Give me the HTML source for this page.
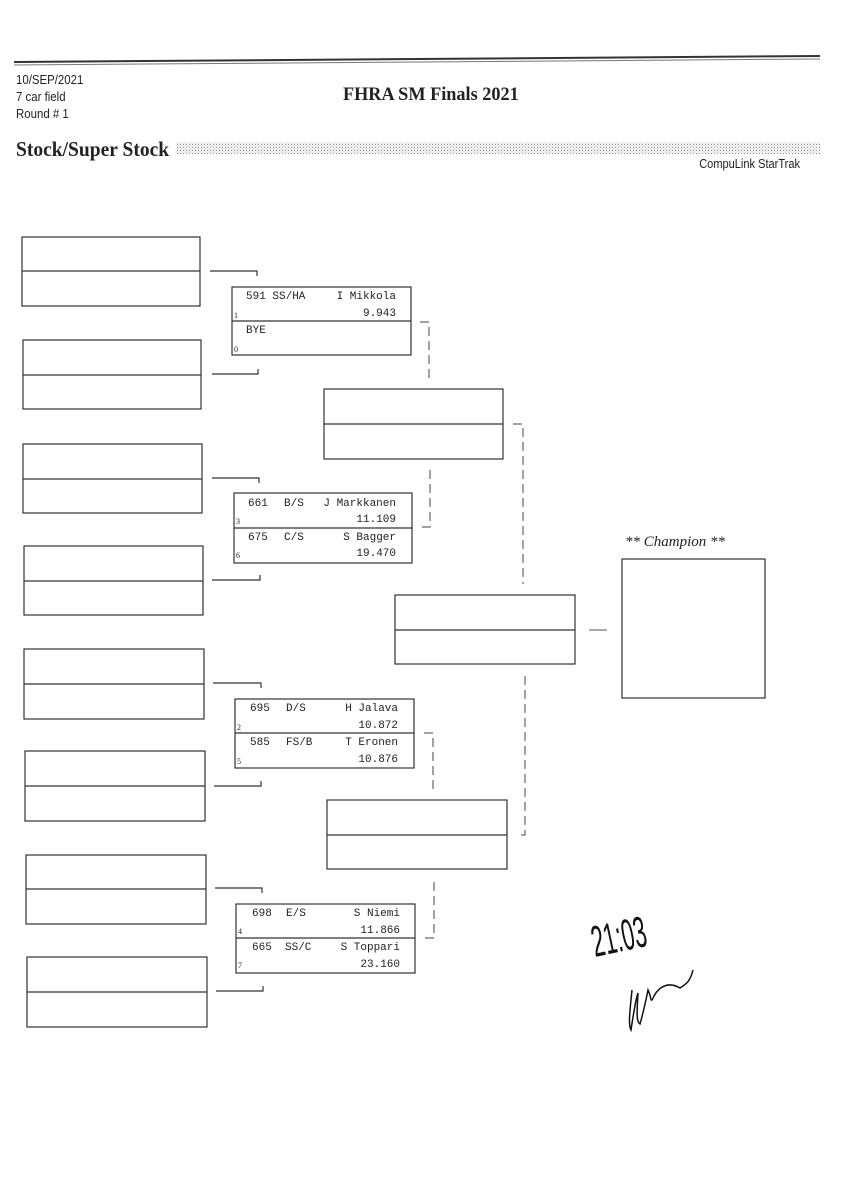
<!DOCTYPE html>
<html><head><meta charset="utf-8"><style>
html,body{margin:0;padding:0;background:#fff;}
body{width:848px;height:1200px;overflow:hidden;}
svg{display:block}
.m{font-family:"Liberation Mono",monospace;font-size:11px;fill:#222}
.s{font-family:"Liberation Serif",serif;font-size:8px;fill:#222}
</style></head><body>
<svg width="848" height="1200" viewBox="0 0 848 1200" xmlns="http://www.w3.org/2000/svg">
<defs>
<pattern id="dots" width="3" height="3" patternUnits="userSpaceOnUse"><rect width="3" height="3" fill="#fff"/><rect width="1" height="1" fill="#888"/><rect x="1.5" y="1.5" width="1" height="1" fill="#999"/></pattern>
</defs>
<line x1="14" y1="62" x2="820" y2="56" stroke="#333" stroke-width="2"/>
<line x1="14" y1="65" x2="820" y2="59" stroke="#777" stroke-width="1"/>
<g font-family="Liberation Sans, sans-serif" font-size="13" fill="#222">
<text x="16" y="84" transform="translate(16 0) scale(0.88 1) translate(-16 0)">10/SEP/2021</text>
<text x="16" y="101" transform="translate(16 0) scale(0.88 1) translate(-16 0)">7 car field</text>
<text x="16" y="118" transform="translate(16 0) scale(0.88 1) translate(-16 0)">Round # 1</text>
<text x="800" y="168" text-anchor="end" transform="translate(800 0) scale(0.85 1) translate(-800 0)">CompuLink StarTrak</text>
</g>
<text x="343" y="100" font-family="Liberation Serif, serif" font-size="19" font-weight="bold" fill="#222" transform="translate(343 0) scale(0.96 1) translate(-343 0)">FHRA SM Finals 2021</text>
<text x="16" y="156" font-family="Liberation Serif, serif" font-size="21" font-weight="bold" fill="#222" transform="translate(16 0) scale(0.93 1) translate(-16 0)">Stock/Super Stock</text>
<rect x="176" y="142" width="644" height="12" fill="url(#dots)"/>

<g fill="none" stroke="#333" stroke-width="1.2">
<rect x="22" y="237" width="178" height="69"/><line x1="22" y1="271" x2="200" y2="271"/>
<rect x="23" y="340" width="178" height="69"/><line x1="23" y1="375" x2="201" y2="375"/>
<rect x="23" y="444" width="179" height="69"/><line x1="23" y1="479" x2="202" y2="479"/>
<rect x="24" y="546" width="179" height="69"/><line x1="24" y1="581" x2="203" y2="581"/>
<rect x="24" y="649" width="180" height="70"/><line x1="24" y1="684" x2="204" y2="684"/>
<rect x="25" y="751" width="180" height="70"/><line x1="25" y1="786" x2="205" y2="786"/>
<rect x="26" y="855" width="180" height="69"/><line x1="26" y1="889" x2="206" y2="889"/>
<rect x="27" y="957" width="180" height="70"/><line x1="27" y1="992" x2="207" y2="992"/>
<polyline points="210,271 257,271 257,276"/>
<polyline points="212,374 258,374 258,369"/>
<polyline points="212,478 259,478 259,483"/>
<polyline points="212,580 260,580 260,575"/>
<polyline points="213,683 261,683 261,688"/>
<polyline points="214,786 261,786 261,781"/>
<polyline points="215,888 262,888 262,893"/>
<polyline points="216,991 263,991 263,986"/>
<rect x="232" y="287" width="179" height="68"/><line x1="232" y1="321" x2="411" y2="321"/>
<rect x="234" y="493" width="178" height="70"/><line x1="234" y1="528" x2="412" y2="528"/>
<rect x="235" y="699" width="179" height="69"/><line x1="235" y1="733" x2="414" y2="733"/>
<rect x="236" y="904" width="179" height="69"/><line x1="236" y1="938" x2="415" y2="938"/>
<rect x="324" y="389" width="179" height="70"/><line x1="324" y1="424" x2="503" y2="424"/>
<rect x="327" y="800" width="180" height="69"/><line x1="327" y1="835" x2="507" y2="835"/>
<rect x="395" y="595" width="180" height="69"/><line x1="395" y1="630" x2="575" y2="630"/>
<rect x="622" y="559" width="143" height="139"/>
</g>
<g fill="none" stroke="#444" stroke-width="1" stroke-dasharray="9,5">
<polyline points="420,322 429,322 429,378"/>
<polyline points="430,470 430,527 421,527"/>
<polyline points="513,424 523,424 523,584"/>
<polyline points="525,676 525,835 517,835"/>
<polyline points="424,733 433,733 433,790"/>
<polyline points="434,882 434,938 425,938"/>
</g>
<line x1="589" y1="630" x2="607" y2="630" stroke="#777" stroke-width="1.2"/>
<text x="625" y="546" font-family="Liberation Serif, serif" font-size="15" font-style="italic" fill="#222">** Champion **</text>

<g class="m">
<text x="246" y="299">591 SS/HA</text><text x="396" y="299" text-anchor="end">I Mikkola</text>
<text x="396" y="316" text-anchor="end">9.943</text>
<text x="246" y="333">BYE</text>
<text x="248" y="506">661</text><text x="284" y="506">B/S</text><text x="396" y="506" text-anchor="end">J Markkanen</text>
<text x="396" y="522" text-anchor="end">11.109</text>
<text x="248" y="540">675</text><text x="284" y="540">C/S</text><text x="396" y="540" text-anchor="end">S Bagger</text>
<text x="396" y="556" text-anchor="end">19.470</text>
<text x="250" y="711">695</text><text x="286" y="711">D/S</text><text x="398" y="711" text-anchor="end">H Jalava</text>
<text x="398" y="728" text-anchor="end">10.872</text>
<text x="250" y="745">585</text><text x="286" y="745">FS/B</text><text x="398" y="745" text-anchor="end">T Eronen</text>
<text x="398" y="762" text-anchor="end">10.876</text>
<text x="252" y="916">698</text><text x="286" y="916">E/S</text><text x="400" y="916" text-anchor="end">S Niemi</text>
<text x="400" y="933" text-anchor="end">11.866</text>
<text x="252" y="950">665</text><text x="285" y="950">SS/C</text><text x="400" y="950" text-anchor="end">S Toppari</text>
<text x="400" y="967" text-anchor="end">23.160</text>
</g>
<g class="s">
<text x="234" y="318">1</text><text x="234" y="352">0</text>
<text x="236" y="524">3</text><text x="236" y="558">6</text>
<text x="237" y="730">2</text><text x="237" y="764">5</text>
<text x="238" y="934">4</text><text x="238" y="968">7</text>
</g>
<text x="0" y="0" transform="translate(595 957) rotate(-12) scale(0.55 1.1)" font-family="Liberation Sans, sans-serif" font-size="40" fill="#111">21:03</text>
<path d="M632,990 C630,1010 628,1025 631,1030 C634,1010 636,998 638,993 C637,1010 636,1022 640,1024 C644,1010 646,1000 648,990 C652,998 650,1005 654,996 C660,985 670,982 680,988 C686,984 690,982 693,970" fill="none" stroke="#111" stroke-width="1.5"/>
</svg>
</body></html>
